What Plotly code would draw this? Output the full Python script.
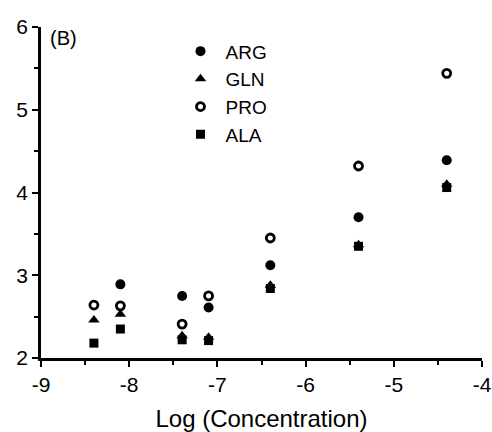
import plotly.graph_objects as go

log_conc = [-8.4, -8.1, -7.4, -7.1, -6.4, -5.4, -4.4]
arg = [None, 2.89, 2.75, 2.61, 3.12, 3.70, 4.39]
gln = [2.46, 2.53, 2.27, 2.25, 2.88, 3.37, 4.10]
pro = [2.64, 2.63, 2.41, 2.75, 3.45, 4.32, 5.44]
ala = [2.18, 2.35, 2.22, 2.21, 2.84, 3.35, 4.06]

x_ticks = [-9, -8, -7, -6, -5, -4]
y_ticks = [2, 3, 4, 5, 6]

FONT = "Liberation Sans, Arial, Helvetica, sans-serif"

fig = go.Figure()
series = [
    ("ARG", arg, "circle", 10, 0),
    ("GLN", gln, "triangle-up", 10, 0),
    ("PRO", pro, "circle-open", 8, 2.8),
    ("ALA", ala, "square", 9, 0),
]
for name, vals, sym, size, lw in series:
    fig.add_trace(go.Scatter(
        x=log_conc, y=vals, mode="markers", name=name, legendgroup=name,
        marker=dict(symbol=sym, size=size, color="black",
                    line=dict(width=lw, color="black")),
    ))

fig.update_layout(
    width=492, height=432,
    margin=dict(l=41, r=10, t=27, b=74, autoexpand=False),
    paper_bgcolor="white", plot_bgcolor="white",
    font=dict(family=FONT, size=20, color="black"),
    showlegend=True,
    legend=dict(x=0.305, y=0.984, xanchor="left", yanchor="top",
                bgcolor="rgba(0,0,0,0)", tracegroupgap=0,
                font=dict(size=19), itemwidth=40),
    annotations=[dict(text="(B)", x=0.015, y=1.005, xref="paper", yref="paper",
                      xanchor="left", yanchor="top", showarrow=False,
                      font=dict(size=20))],
)
fig.update_xaxes(
    range=[-9, -4], tickvals=x_ticks, ticktext=[str(v) for v in x_ticks],
    showline=True, linewidth=2.8, linecolor="black", mirror=False,
    ticks="outside", ticklen=6, tickwidth=2, tickcolor="black",
    minor=dict(dtick=0.5, tick0=-9, ticks="outside", ticklen=4, tickwidth=2, tickcolor="black"),
    showgrid=False, zeroline=False, tickfont=dict(size=21), automargin=False,
    title=dict(text="Log (Concentration)", standoff=19, font=dict(size=24)),
)
fig.update_yaxes(
    range=[2, 6], tickvals=y_ticks, ticktext=[str(v) for v in y_ticks],
    showline=True, linewidth=2.8, linecolor="black", mirror=False,
    ticks="outside", ticklen=6, tickwidth=2, tickcolor="black",
    minor=dict(dtick=0.5, tick0=2, ticks="outside", ticklen=4, tickwidth=2, tickcolor="black"),
    showgrid=False, zeroline=False, tickfont=dict(size=21), automargin=False,
)

fig.write_html("out.html")
